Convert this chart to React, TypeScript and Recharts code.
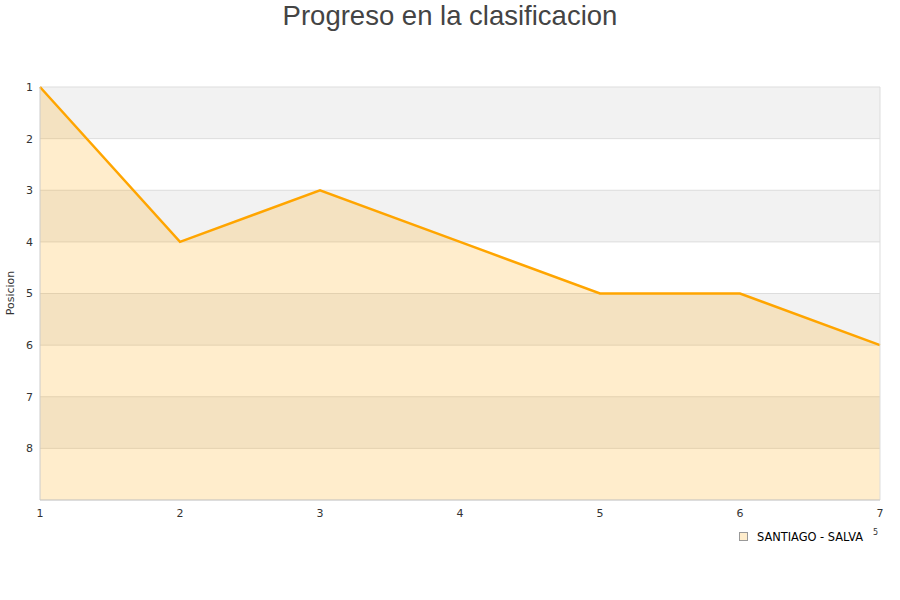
import React from "react";
import {
  ComposedChart,
  Area,
  XAxis,
  YAxis,
  CartesianGrid,
  ReferenceLine,
} from "recharts";

const jornadas = [1, 2, 3, 4, 5, 6, 7];
const posiciones = [1, 4, 3, 4, 5, 5, 6];
const yTicks = [1, 2, 3, 4, 5, 6, 7, 8];
const xTicks = [1, 2, 3, 4, 5, 6, 7];
const seriesName = "SANTIAGO - SALVA";
const title = "Progreso en la clasificacion";
const yLabel = "Posicion";

const data = jornadas.map((j, i) => ({ jornada: j, pos: posiciones[i] }));

const FONT = "'DejaVu Sans', sans-serif";

export default function App() {
  return (
    <div style={{ position: "absolute", left: 0, top: 0, width: 900, height: 600 }}>
      <ComposedChart
        width={900}
        height={600}
        data={data}
        margin={{ top: 87, right: 20, bottom: 70, left: 10 }}
      >
        <CartesianGrid
          vertical={false}
          stroke="#dddddd"
          horizontalFill={["#f2f2f2", "#ffffff"]}
          fillOpacity={1}
        />
        <XAxis
          dataKey="jornada"
          type="number"
          domain={[1, 7]}
          ticks={xTicks}
          height={30}
          tickLine={false}
          tickSize={6}
          tickMargin={3}
          axisLine={{ stroke: "#cccccc" }}
          tick={{ fontSize: 11, fill: "#333", fontFamily: FONT }}
        />
        <YAxis
          type="number"
          domain={[1, 9]}
          reversed
          ticks={yTicks}
          interval={0}
          width={30}
          tickLine={false}
          tickSize={6}
          tickMargin={1}
          axisLine={{ stroke: "#cccccc" }}
          tick={{ fontSize: 11, fill: "#333", fontFamily: FONT }}
        />
        <ReferenceLine x={7} stroke="#dddddd" />
        <Area
          type="linear"
          dataKey="pos"
          name={seriesName}
          baseValue={9}
          stroke="#ffa500"
          strokeWidth={2.5}
          fill="#ffa500"
          fillOpacity={0.2}
          dot={false}
          activeDot={false}
          isAnimationActive={false}
        />
      </ComposedChart>
      <svg
        width={900}
        height={600}
        style={{ position: "absolute", left: 0, top: 0, pointerEvents: "none" }}
      >
        <text
          x={450}
          y={25}
          textAnchor="middle"
          fontSize={27.5}
          fill="#444"
          fontFamily="'Liberation Sans', Arial, sans-serif"
        >
          {title}
        </text>
        <text
          x={14}
          y={293}
          transform="rotate(-90 14 293)"
          textAnchor="middle"
          fontSize={11}
          fill="#333"
          fontFamily={FONT}
        >
          {yLabel}
        </text>
        <rect x={739.5} y={532.5} width={8} height={8} fill="#ffedcc" stroke="#999" strokeWidth={1} />
        <text x={757} y={541} fontSize={11.4} fill="#000" fontFamily={FONT}>
          {seriesName}
        </text>
        <text x={873} y={535} fontSize={8} fill="#333" fontFamily={FONT}>
          5
        </text>
      </svg>
    </div>
  );
}
